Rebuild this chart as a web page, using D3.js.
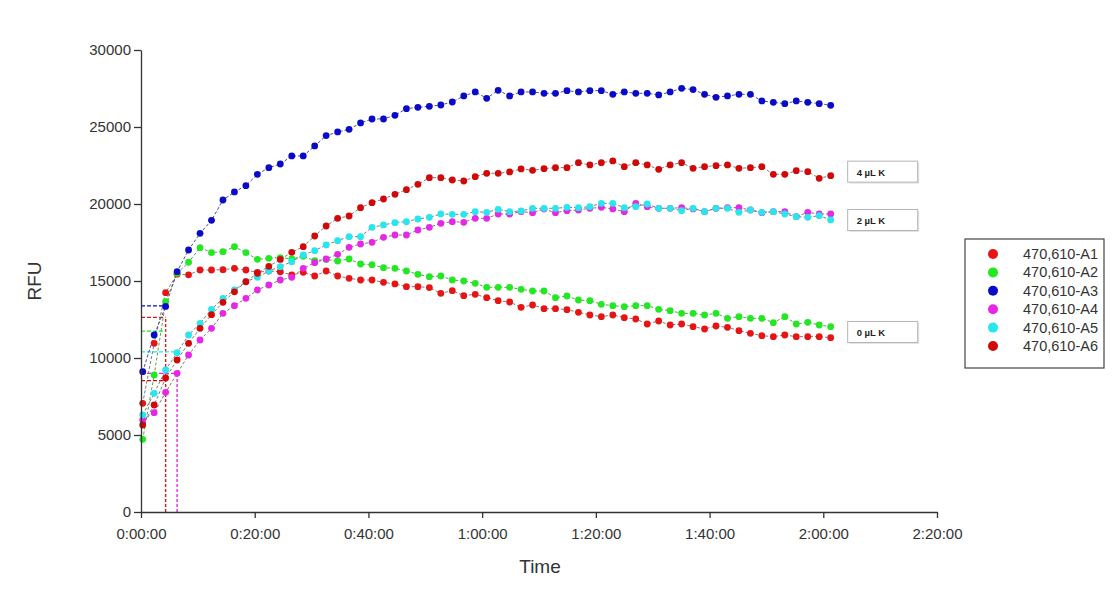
<!DOCTYPE html>
<html><head><meta charset="utf-8">
<script src="https://cdn.jsdelivr.net/npm/d3@7"></script>
<style>
body{margin:0;background:#fff;}
text{font-family:"Liberation Sans",Arial,sans-serif;}
</style>
</head><body>
<svg id="chart" width="1115" height="597"></svg>
<script>
// ---- data ----
const timesSec = [18,139,260,381,502,623,744,865,986,1107,1228,1349,1470,1591,1712,1833,1954,2075,2196,2317,2438,2559,2680,2801,2922,3043,3164,3285,3406,3527,3648,3769,3890,4011,4132,4253,4374,4495,4616,4737,4858,4979,5100,5221,5342,5463,5584,5705,5826,5947,6068,6189,6310,6431,6552,6673,6794,6915,7036,7157,7278];
const seriesNames = ["470,610-A1","470,610-A2","470,610-A3","470,610-A4","470,610-A5","470,610-A6"];
const seriesColors = ["#e81414","#22e822","#0a0ac8","#e628e6","#28e6ee","#d20808"];
const valuesA1 = [7060,10953,14243,15440,15400,15715,15715,15736,15823,15715,15564,15650,15600,15391,15564,15326,15650,15326,15175,15066,15066,14915,14807,14634,14634,14570,14200,14374,14049,14135,13919,13724,13637,13291,13443,13204,13204,13139,12966,12793,12685,12793,12620,12533,12209,12404,12144,12209,12036,11884,12079,11993,11775,11602,11451,11386,11494,11386,11386,11386,11321];
const valuesA2 = [4719,8897,13660,15500,16216,17166,16840,16905,17229,16840,16410,16470,16520,16430,16600,16320,16400,16300,16430,16105,16060,15866,15823,15650,15434,15283,15326,15066,15000,14850,14590,14590,14590,14460,14352,14352,13919,14027,13767,13724,13486,13400,13334,13400,13400,13161,13074,12900,12900,12793,12900,12577,12685,12577,12577,12295,12685,12209,12317,12144,12036];
const valuesA3 = [9110,11494,13350,15606,17014,18097,18940,20261,20781,21192,21927,22361,22599,23119,23119,23768,24440,24677,24850,25262,25521,25521,25760,26192,26278,26343,26430,26625,27015,27275,26863,27383,27015,27275,27275,27188,27188,27360,27275,27360,27360,27123,27275,27188,27188,27080,27275,27513,27427,27123,26928,27015,27123,27123,26690,26604,26517,26690,26604,26517,26409];
const valuesA4 = [5975,6450,7770,9005,10195,11170,11927,12900,13400,13875,14417,14741,15066,15239,15823,16190,16430,16732,17187,17404,17512,17837,17988,17988,18313,18486,18746,18855,18812,19070,19070,19352,19352,19503,19438,19677,19438,19568,19612,19720,19785,19677,19503,20045,19828,19720,19720,19763,19677,19503,19720,19763,19763,19610,19438,19503,19503,19178,19460,19352,19352];
const valuesA5 = [6300,7706,9222,10345,11494,12251,13161,13875,14417,14958,15239,15650,15932,16254,16690,16970,17340,17620,17880,17880,18486,18638,18790,18855,19027,19135,19352,19330,19330,19503,19460,19655,19503,19547,19720,19720,19720,19785,19763,19828,20045,20045,19763,19828,20000,19720,19720,19568,19720,19503,19720,19720,19460,19610,19460,19503,19352,19178,19135,19243,18963];
const valuesA6 = [5650,6949,8700,9871,10953,11926,12815,13616,14300,14950,15500,15950,16400,16862,17229,17923,18573,19070,19222,19763,20088,20326,20630,20933,21280,21710,21710,21560,21495,21776,21993,21993,22080,22275,22188,22297,22360,22360,22684,22535,22684,22794,22425,22684,22535,22254,22535,22684,22318,22425,22490,22535,22318,22360,22425,21927,21927,22166,22101,21670,21840];
const seriesValues = [valuesA1,valuesA2,valuesA3,valuesA4,valuesA5,valuesA6];
// threshold crossing markers (series index, sample index, level, vertical drop line)
const thresholdSeries = [2,0,1,4,5,3];
const thresholdIndex  = [2,2,2,3,2,3];
const thresholdLevel  = [13380,12640,11750,10400,8530,9000];
const thresholdDrop   = [false,true,false,false,false,true];
// group labels at right
const groupLabels = ["4 µL K","2 µL K","0 µL K"];
const groupLevels = [22100,18960,11690];
const yTicks = [0,5000,10000,15000,20000,25000,30000];
const xTicksSec = [0,1200,2400,3600,4800,6000,7200,8400];

// ---- drawing ----
const svg = d3.select("#chart");
const x = d3.scaleLinear().domain([0,8400]).range([141,937]);
const y = d3.scaleLinear().domain([0,30000]).range([512,50]);
const fmt = s => { const h=Math.floor(s/3600), m=Math.floor(s%3600/60), ss=s%60;
  return h+":"+String(m).padStart(2,"0")+":"+String(ss).padStart(2,"0"); };

// threshold lines
thresholdSeries.forEach((si,k)=>{
  const t = timesSec[thresholdIndex[k]];
  svg.append("line").attr("x1",x(0)).attr("x2",x(t))
    .attr("y1",y(thresholdLevel[k])).attr("y2",y(thresholdLevel[k]))
    .attr("stroke",seriesColors[si]).attr("stroke-width",1.3).attr("stroke-dasharray","4,2");
  if (thresholdDrop[k]) {
    svg.append("line").attr("x1",x(t)).attr("x2",x(t))
      .attr("y1",y(0)).attr("y2",y(thresholdLevel[k]))
      .attr("stroke",seriesColors[si]).attr("stroke-width",1.4).attr("stroke-dasharray","3,2");
  }
});

// connecting lines
const line = d3.line().x((d,i)=>x(timesSec[i])).y(d=>y(d));
seriesValues.forEach((vals,si)=>{
  svg.append("path").attr("d",line(vals)).attr("fill","none")
    .attr("stroke",si===2||si===1 ? d3.interpolateRgb(seriesColors[si],"#777")(0.6) : "#7a7a7a")
    .attr("stroke-width",1).attr("stroke-dasharray","3,2");
});
// points
seriesValues.forEach((vals,si)=>{
  svg.append("g").selectAll("circle").data(vals).join("circle")
    .attr("cx",(d,i)=>x(timesSec[i])).attr("cy",d=>y(d)).attr("r",3.4)
    .attr("fill",seriesColors[si]);
});

// axes
const yAxis = svg.append("g").attr("transform","translate(141,0)")
  .call(d3.axisLeft(y).tickValues(yTicks).tickFormat(d3.format("d")).tickSize(7).tickSizeOuter(0).tickPadding(3));
const xAxis = svg.append("g").attr("transform","translate(0,512)")
  .call(d3.axisBottom(x).tickValues(xTicksSec).tickFormat(fmt).tickSize(6).tickSizeOuter(0).tickPadding(10));
[yAxis,xAxis].forEach(a=>{
  a.selectAll("path,line").attr("stroke","#333").attr("stroke-width",1.3);
  a.selectAll("text").attr("fill","#333").style("font-size","15px").style("font-family","'Liberation Sans',Arial,sans-serif");
});

svg.append("text").attr("transform","translate(41,281) rotate(-90)").attr("text-anchor","middle")
  .style("font-size","19px").attr("fill","#333").text("RFU");
svg.append("text").attr("x",540).attr("y",573).attr("text-anchor","middle")
  .style("font-size","19px").attr("fill","#333").text("Time");

// group label boxes
groupLabels.forEach((lab,k)=>{
  const bx = x(timesSec[timesSec.length-1]) + 17, by = y(groupLevels[k]) - 10.5;
  svg.append("rect").attr("x",bx+1.5).attr("y",by+1.5).attr("width",70).attr("height",21).attr("fill","#e4e4e4");
  svg.append("rect").attr("x",bx).attr("y",by).attr("width",70).attr("height",21)
    .attr("fill","#fff").attr("stroke","#b5b5b5").attr("stroke-width",1);
  svg.append("text").attr("x",bx+9).attr("y",by+14.5).style("font-size","9.5px").style("font-weight","bold")
    .attr("fill","#222").text(lab);
});

// legend
const lg = svg.append("g").attr("transform","translate(965,239)");
lg.append("rect").attr("width",139).attr("height",129).attr("fill","#fff").attr("stroke","#444").attr("stroke-width",1.2);
seriesNames.forEach((n,i)=>{
  const yy = 15 + i*18.4;
  lg.append("circle").attr("cx",28).attr("cy",yy).attr("r",5).attr("fill",seriesColors[i]);
  lg.append("text").attr("x",58).attr("y",yy+5).style("font-size","14.5px").attr("fill","#333").text(n);
});
</script>
</body></html>
